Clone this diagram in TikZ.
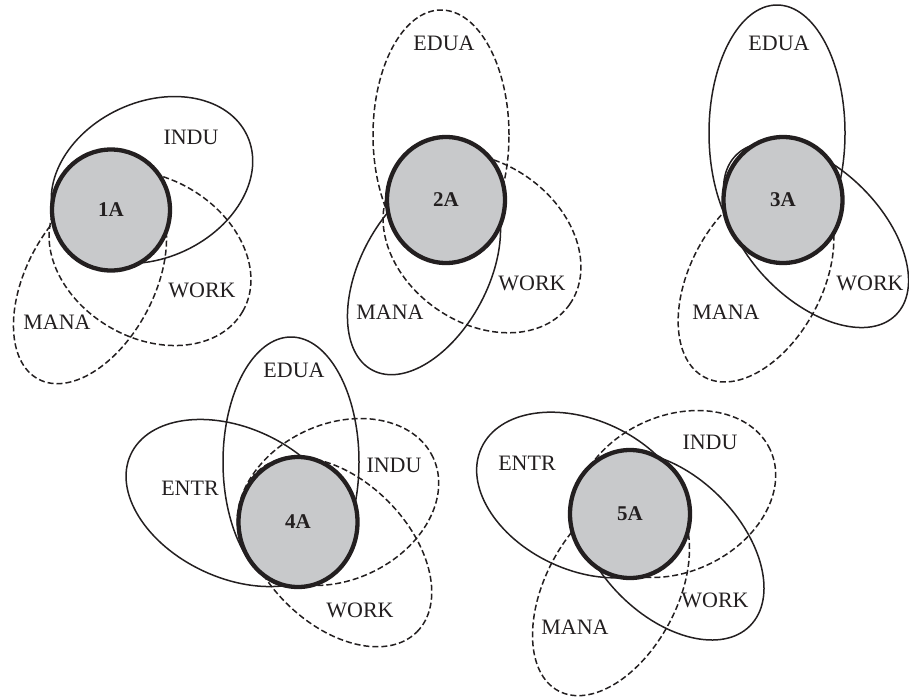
\documentclass[tikz,border=0pt]{standalone}
\usepackage{fontspec}
\setmainfont{Liberation Serif}
\usetikzlibrary{shapes.geometric}
\definecolor{hubfill}{RGB}{200,201,203}
\definecolor{ink}{RGB}{35,31,32}
\tikzset{
  ring/.style={ellipse, draw=ink, line width=1.5pt, inner sep=0pt, outer sep=0pt},
  dashring/.style={ring, dash pattern=on 6pt off 3pt},
  hub/.style={ellipse, draw=ink, fill=hubfill, line width=4.3pt, inner sep=0pt,
    text=ink, font=\fontsize{21}{25}\selectfont\bfseries},
  tag/.style={text=ink, font=\fontsize{22}{26}\selectfont, inner sep=0pt}
}
\begin{document}
\begin{tikzpicture}[x=1pt,y=-1pt]
\useasboundingbox (0,0) rectangle (909,699);

% ---- group 1A ----
\node[ring, minimum width=210, minimum height=156, rotate=25] (indu1) at (152,180) {};
\node[dashring, minimum width=214, minimum height=160, rotate=-30] (work1) at (150,258) {};
\node[dashring, minimum width=220, minimum height=128, rotate=62] (mana1) at (90,282) {};
\node[hub, minimum width=118, minimum height=121] (c1) at (111,210) {1A};
\node[tag] (t-indu1) at (191,137) {INDU};
\node[tag] (t-work1) at (202,290) {WORK};
\node[tag] (t-mana1) at (57,322) {MANA};

% ---- group 2A ----
\node[dashring, minimum width=136, minimum height=250] (edua2) at (441,135) {};
\node[ring, minimum width=220, minimum height=128, rotate=62] (mana2) at (424,273) {};
\node[dashring, minimum width=214, minimum height=160, rotate=-35] (work2) at (482,243) {};
\node[hub, minimum width=118, minimum height=126] (c2) at (446,200) {2A};
\node[tag] (t-edua2) at (444,43) {EDUA};
\node[tag] (t-work2) at (532,283) {WORK};
\node[tag] (t-mana2) at (390,312) {MANA};

% ---- group 3A ----
\node[ring, minimum width=136, minimum height=256] (edua3) at (777,133) {};
\node[ring, minimum width=226, minimum height=132, rotate=-45] (work3) at (816,235) {};
\node[dashring, minimum width=220, minimum height=132, rotate=62] (mana3) at (756,280) {};
\node[hub, minimum width=119, minimum height=126] (c3) at (783,200) {3A};
\node[tag] (t-edua3) at (779,43) {EDUA};
\node[tag] (t-work3) at (870,283) {WORK};
\node[tag] (t-mana3) at (726,312) {MANA};

% ---- group 4A ----
\node[ring, minimum width=136, minimum height=250] (edua4) at (291,462) {};
\node[ring, minimum width=230, minimum height=150, rotate=-25] (entr4) at (235,503) {};
\node[dashring, minimum width=210, minimum height=156, rotate=25] (indu4) at (338,502) {};
\node[dashring, minimum width=226, minimum height=144, rotate=-45] (work4) at (337,552) {};
\node[hub, minimum width=119, minimum height=130] (c4) at (298,522) {4A};
\node[tag] (t-edua4) at (294,370) {EDUA};
\node[tag] (t-entr4) at (190,488) {ENTR};
\node[tag] (t-indu4) at (394,465) {INDU};
\node[tag] (t-work4) at (360,610) {WORK};

% ---- group 5A ----
\node[ring, minimum width=224, minimum height=150, rotate=-25] (entr5) at (583,495) {};
\node[dashring, minimum width=210, minimum height=156, rotate=25] (indu5) at (675,494) {};
\node[ring, minimum width=226, minimum height=140, rotate=-45] (work5) at (670,546) {};
\node[dashring, minimum width=224, minimum height=132, rotate=62] (mana5) at (611,592) {};
\node[hub, minimum width=120, minimum height=128] (c5) at (630,514) {5A};
\node[tag] (t-entr5) at (527,463) {ENTR};
\node[tag] (t-indu5) at (710,442) {INDU};
\node[tag] (t-work5) at (715,600) {WORK};
\node[tag] (t-mana5) at (575,627) {MANA};
\end{tikzpicture}
\end{document}
